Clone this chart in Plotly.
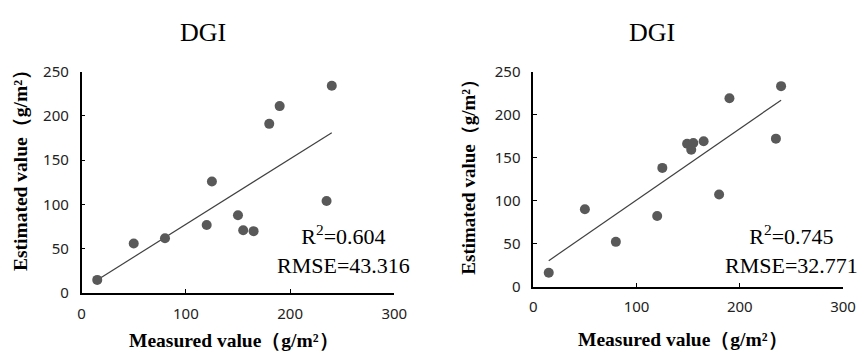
import numpy as np
import plotly.graph_objects as go

# ---- data ----
left_measured = [15, 50, 80, 120, 125, 150, 155, 165, 180, 190, 235, 240]
left_estimated = [15, 56, 62, 77, 126, 88, 71, 70, 191, 211, 104, 234]

right_measured = [15, 50, 80, 120, 125, 149, 155, 153, 165, 180, 190, 235, 240]
right_estimated = [16, 90, 52, 82, 138, 166, 167, 159, 169, 107, 219, 172, 233]

left_stats = {"r2": "0.604", "rmse": "43.316"}
right_stats = {"r2": "0.745", "rmse": "32.771"}

x_ticks = [0, 100, 200, 300]
y_ticks = [0, 50, 100, 150, 200, 250]
panel_title = "DGI"
x_title = "Measured value（g/m²）"
y_title = "Estimated value（g/m²）"

W, H = 865, 352
MARK = "#595959"
LINE = "#404040"
SERIF = "Liberation Serif, Times New Roman, serif"
SANS = "Noto Sans, DejaVu Sans, sans-serif"

fig = go.Figure()


def add_panel(xs, ys, xa, ya):
    xs = np.asarray(xs, float)
    ys = np.asarray(ys, float)
    k, b = np.polyfit(xs, ys, 1)
    lx = np.array([xs.min(), xs.max()])
    fig.add_trace(go.Scatter(x=lx, y=k * lx + b, mode="lines",
                             line=dict(color=LINE, width=1.2),
                             xaxis=xa, yaxis=ya, showlegend=False, hoverinfo="skip"))
    fig.add_trace(go.Scatter(x=xs, y=ys, mode="markers",
                             marker=dict(color=MARK, size=10, line=dict(width=0)),
                             xaxis=xa, yaxis=ya, showlegend=False))


add_panel(left_measured, left_estimated, "x", "y")
add_panel(right_measured, right_estimated, "x2", "y2")

axis_common = dict(showgrid=False, zeroline=False, showline=True, linecolor="#000000",
                   linewidth=1.5, ticks="inside", ticklen=4, tickwidth=1.2, tickcolor="#000000",
                   tickfont=dict(family=SANS, size=15, color="#222222"), fixedrange=True)

fig.update_layout(
    width=W, height=H,
    margin=dict(l=0, r=0, t=0, b=0),
    paper_bgcolor="white", plot_bgcolor="white",
    xaxis=dict(domain=[71 / W, 390 / W], range=[0, 300], tickvals=x_ticks, anchor="y",
               ticklabelstandoff=6, **axis_common),
    yaxis=dict(domain=[61.3 / H, 296.3 / H], range=[0, 250], tickvals=y_ticks, anchor="x",
               ticklabelstandoff=8, **axis_common),
    xaxis2=dict(domain=[531.7 / W, 847.7 / W], range=[0, 300], tickvals=x_ticks, anchor="y2",
                ticklabelstandoff=6, **axis_common),
    yaxis2=dict(domain=[68.3 / H, 296.3 / H], range=[0, 250], tickvals=y_ticks, anchor="x2",
                ticklabelstandoff=8, **axis_common),
)


def ann(text, px, py, size, bold=False, angle=0, family=SERIF):
    t = f"<b>{text}</b>" if bold else text
    fig.add_annotation(text=t, x=px / W, y=1 - py / H, xref="paper", yref="paper",
                       xanchor="center", yanchor="middle", showarrow=False, align="center",
                       textangle=angle, font=dict(family=family, size=size, color="#000000"))


# panel titles
ann(panel_title, 195, 14, 26)
ann(panel_title, 653, 14, 26)
# axis titles
ann(x_title, 226, 341, 19.5, bold=True)
ann(x_title, 684, 340, 19.5, bold=True)
ann(y_title, 8, 155, 19.5, bold=True, angle=-90)
ann(y_title, 466, 162, 19, bold=True, angle=-90)
# statistics
ann("R<sup>2</sup>=" + left_stats["r2"] + "<br>RMSE=" + left_stats["rmse"], 338, 244, 22)
ann("R<sup>2</sup>=" + right_stats["r2"] + "<br>RMSE=" + right_stats["rmse"], 795, 244, 22)

fig.write_html("out.html")
